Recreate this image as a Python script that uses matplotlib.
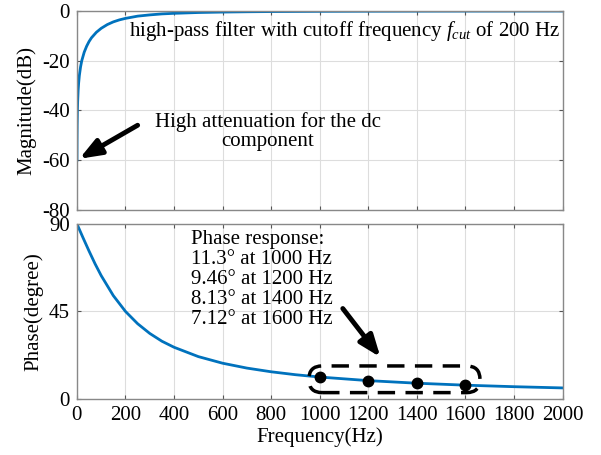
import numpy as np
import matplotlib.pyplot as plt
from matplotlib.patches import FancyBboxPatch

plt.rcParams['font.family'] = ['Liberation Serif', 'DejaVu Serif']
plt.rcParams['mathtext.fontset'] = 'custom'
plt.rcParams['mathtext.it'] = 'Liberation Serif:italic'
plt.rcParams['mathtext.rm'] = 'Liberation Serif'
plt.rcParams['axes.unicode_minus'] = False

# magnitude response (Hz, dB)
mag_f = [0.2, 0.5, 1, 2, 3, 5, 7, 10, 15, 20, 30, 40, 50, 60, 80, 100, 125, 150,
         175, 200, 250, 300, 350, 400, 500, 600, 700, 800, 1000, 1200, 1500, 2000]
mag_db = [-60.0, -52.0, -46.0, -40.0, -36.5, -32.0, -29.1, -26.0, -22.5, -20.0,
          -16.6, -14.2, -12.3, -10.8, -8.6, -7.0, -5.5, -4.4, -3.6, -3.0, -2.1,
          -1.6, -1.2, -0.97, -0.64, -0.46, -0.34, -0.26, -0.17, -0.12, -0.08, -0.04]

# phase response (Hz, degree)
ph_f = [0, 25, 50, 75, 100, 150, 200, 250, 300, 350, 400, 500, 600, 700, 800,
        900, 1000, 1200, 1400, 1600, 1800, 2000]
ph_deg = [90, 82.9, 76.0, 69.4, 63.4, 53.1, 45.0, 38.7, 33.7, 29.7, 26.6, 21.8,
          18.4, 15.9, 14.0, 12.5, 11.3, 9.46, 8.13, 7.12, 6.34, 5.71]

# marked points
mark_f = [1000, 1200, 1400, 1600]
mark_deg = [11.3, 9.46, 8.13, 7.12]

xticks = [0, 200, 400, 600, 800, 1000, 1200, 1400, 1600, 1800, 2000]
blue = '#0072BD'
fs = 15

fig = plt.figure(figsize=(6.01, 4.55), dpi=100)
ax1 = fig.add_axes([0.128, 0.539, 0.808, 0.437])
ax2 = fig.add_axes([0.128, 0.123, 0.808, 0.385])

for ax in (ax1, ax2):
    ax.set_xlim(0, 2000)
    ax.set_xticks(xticks)
    ax.grid(True, color='#dddddd', lw=0.8)
    ax.tick_params(direction='in', top=True, right=True, length=3,
                   color='#555555', labelsize=fs, pad=5)
    for s in ax.spines.values():
        s.set_color('#888888')
        s.set_linewidth(1.0)
    ax.set_axisbelow(True)

arrow = dict(arrowstyle='-|>,head_width=0.5,head_length=1.3',
             color='black', lw=3.5, shrinkA=0, shrinkB=0)

ax1.plot(mag_f, mag_db, color=blue, lw=2)
ax1.set_ylim(-80, 0)
ax1.set_yticks([-80, -60, -40, -20, 0])
ax1.set_xticklabels([])
ax1.set_ylabel('Magnitude(dB)', fontsize=fs, labelpad=4)
ax1.text(1990, -3.2, 'high-pass filter with cutoff frequency $f_{cut}$ of 200 Hz',
         ha='right', va='top', fontsize=fs)
ax1.text(785, -48.5, 'High attenuation for the dc\ncomponent', ha='center',
         va='center', fontsize=fs, linespacing=1.05)
ax1.annotate('', xy=(10, -59.5), xytext=(250, -46), arrowprops=arrow)

ax2.plot(ph_f, ph_deg, color=blue, lw=2)
ax2.plot(mark_f, mark_deg, 'o', color='black', ms=7.5)
ax2.set_ylim(0, 90)
ax2.set_yticks([0, 45, 90])
ax2.set_xlabel('Frequency(Hz)', fontsize=fs, labelpad=2)
ax2.set_ylabel('Phase(degree)', fontsize=fs, labelpad=4)
lines = ['Phase response:'] + ['%g\u00b0 at %d Hz' % (d, f) for f, d in zip(mark_f, mark_deg)]
ax2.text(470, 87, '\n'.join(lines), ha='left', va='top', fontsize=fs, linespacing=1.08)
ax2.annotate('', xy=(1250, 21.5), xytext=(1095, 46.5), arrowprops=arrow)
box = FancyBboxPatch((955, 3.3), 705, 13.7,
                     boxstyle='round,pad=0,rounding_size=55',
                     mutation_aspect=0.125, fill=False, ec='black', lw=2.5,
                     ls=(0, (5, 3)), zorder=5)
ax2.add_patch(box)

fig.savefig('out.png', dpi=100)
